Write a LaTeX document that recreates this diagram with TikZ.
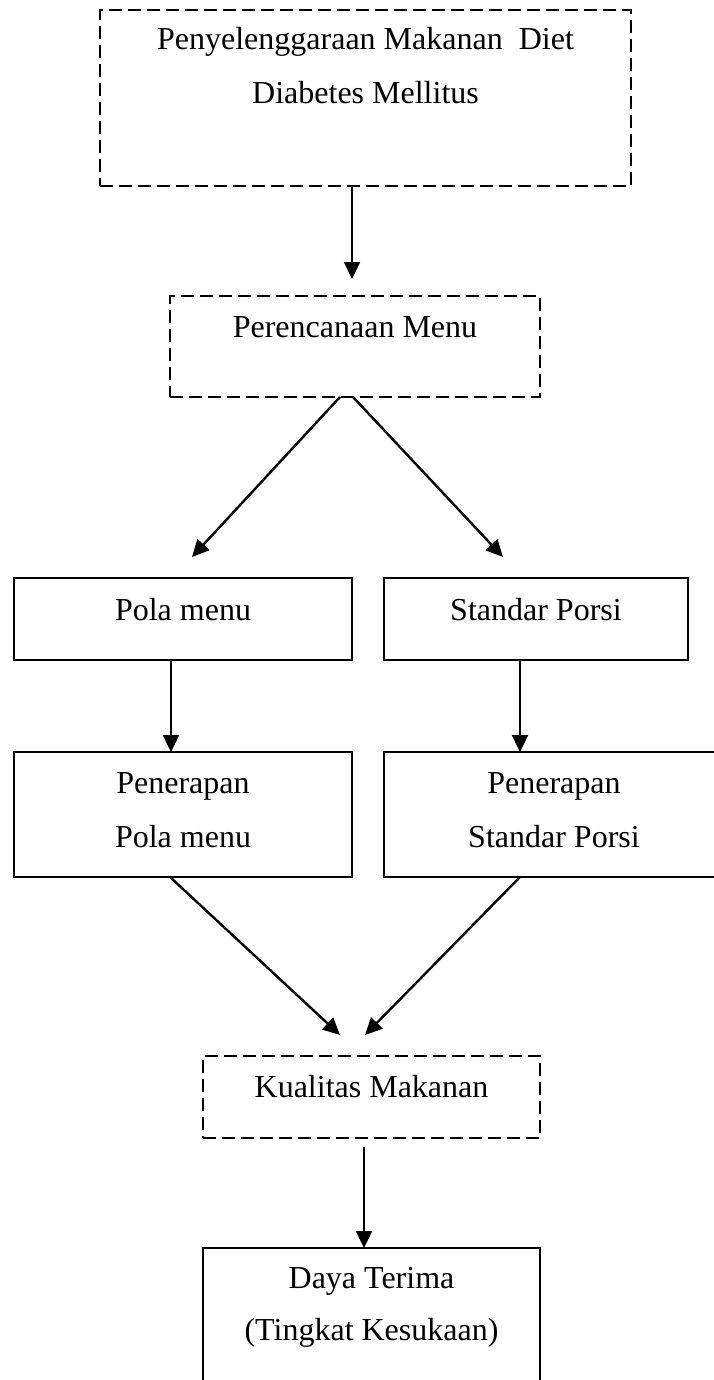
\documentclass[tikz,border=0pt]{standalone}
\usepackage{fontspec}
\setmainfont{Liberation Serif}
\usetikzlibrary{arrows.meta}
\begin{document}
\begin{tikzpicture}[x=1pt,y=-1pt,
  box/.style={draw, line width=2pt, inner sep=0pt, outer sep=0pt, rectangle},
  dbox/.style={box, dash pattern=on 13pt off 6pt},
  lbl/.style={anchor=base, inner sep=0pt, font=\fontsize{32}{40}\selectfont},
  arr/.style={line width=2.4pt, -{Triangle[length=17pt,width=16pt]}}]
\useasboundingbox (0,0) rectangle (714,1380);
\clip (0,0) rectangle (714,1380);
\fill[white] (0,0) rectangle (714,1380);

% boxes
\node[dbox, minimum width=531pt, minimum height=176pt] (top) at (365.5,98) {};
\node[dbox, minimum width=370pt, minimum height=101pt] (perenc) at (355,346.5) {};
\node[box, minimum width=338pt, minimum height=82pt] (pola) at (183,619) {};
\node[box, minimum width=304pt, minimum height=82pt] (std) at (536,619) {};
\node[box, minimum width=338pt, minimum height=125pt] (penpola) at (183,814.5) {};
\node[box, minimum width=340pt, minimum height=125pt] (penstd) at (554,814.5) {};
\node[dbox, minimum width=337pt, minimum height=82pt] (kual) at (371.5,1097) {};
\node[box, minimum width=337pt, minimum height=152pt] (daya) at (371.5,1324) {};

% texts
\node[lbl] (topa) at (365.5,50) {Penyelenggaraan Makanan\ \ Diet};
\node[lbl] (topb) at (365.5,104) {Diabetes Mellitus};
\node[lbl] (perenct) at (355,337) {Perencanaan Menu};
\node[lbl] (polat) at (183,620) {Pola menu};
\node[lbl] (stdt) at (536,620) {Standar Porsi};
\node[lbl] (penpolaa) at (183,793) {Penerapan};
\node[lbl] (penpolab) at (183,847) {Pola menu};
\node[lbl] (penstda) at (554,793) {Penerapan};
\node[lbl] (penstdb) at (554,847) {Standar Porsi};
\node[lbl] (kualt) at (371.5,1097) {Kualitas Makanan};
\node[lbl] (dayaa) at (371.5,1288) {Daya Terima};
\node[lbl] (dayab) at (371.5,1340) {(Tingkat Kesukaan)};

% connectors
\draw[arr] ([xshift=-13.5pt]top.south) -- ([xshift=-3pt,yshift=17pt]perenc.north);
\draw[arr] ([xshift=-15pt]perenc.south) -- ([xshift=9pt,yshift=21pt]pola.north);
\draw[arr] ([xshift=-2pt]perenc.south) -- ([xshift=-33pt,yshift=21pt]std.north);
\draw[arr] ([xshift=-12pt]pola.south) -- ([xshift=-12pt]penpola.north);
\draw[arr] ([xshift=-16pt]std.south) -- ([xshift=-34pt]penstd.north);
\draw[arr] ([xshift=-13pt]penpola.south) -- ([xshift=-31.5pt,yshift=21pt]kual.north);
\draw[arr] ([xshift=-34pt]penstd.south) -- ([xshift=-6.5pt,yshift=21pt]kual.north);
\draw[arr] ([xshift=-7.5pt,yshift=-9pt]kual.south) -- ([xshift=-7.5pt]daya.north);
\end{tikzpicture}
\end{document}
